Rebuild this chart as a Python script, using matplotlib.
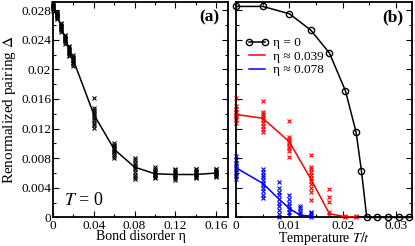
import matplotlib
matplotlib.use("Agg")
import matplotlib.pyplot as plt
from matplotlib.ticker import MultipleLocator

plt.rcParams['font.family'] = ['Liberation Serif', 'DejaVu Serif']
plt.rcParams['mathtext.fontset'] = 'stix'

# panel (a): T = 0, gap vs bond disorder
eta = [0, 0.004, 0.008, 0.012, 0.016, 0.02, 0.04, 0.06, 0.08, 0.10, 0.12, 0.14, 0.16]
gap_mean = [0.0285, 0.0273, 0.0257, 0.0241, 0.0226, 0.0212, 0.0139, 0.0092,
            0.0068, 0.0059, 0.0058, 0.0058, 0.0060]
gap_samples = [
    [0.0279, 0.0281, 0.0283, 0.0284, 0.0285, 0.0286, 0.0287, 0.0288, 0.0290],
    [0.0268, 0.0270, 0.0271, 0.0272, 0.0273, 0.0274, 0.0275, 0.0276, 0.0278],
    [0.0251, 0.0253, 0.0255, 0.0256, 0.0257, 0.0258, 0.0259, 0.0261, 0.0263],
    [0.0234, 0.0237, 0.0239, 0.0240, 0.0241, 0.0242, 0.0243, 0.0245, 0.0247],
    [0.0218, 0.0220, 0.0222, 0.0224, 0.0225, 0.0226, 0.0228, 0.0230, 0.0232],
    [0.0205, 0.0207, 0.0209, 0.0210, 0.0212, 0.0213, 0.0215, 0.0217, 0.0220],
    [0.0121, 0.0125, 0.0128, 0.0131, 0.0134, 0.0137, 0.0140, 0.0142, 0.0145, 0.0148, 0.0161],
    [0.0080, 0.0083, 0.0086, 0.0088, 0.0090, 0.0092, 0.0094, 0.0096, 0.0098, 0.0100],
    [0.0052, 0.0055, 0.0058, 0.0062, 0.0065, 0.0068, 0.0071, 0.0074, 0.0077, 0.0080],
    [0.0053, 0.0055, 0.0057, 0.0058, 0.0060, 0.0061, 0.0063, 0.0065, 0.0068],
    [0.0050, 0.0053, 0.0055, 0.0057, 0.0058, 0.0060, 0.0062, 0.0064, 0.0066],
    [0.0053, 0.0055, 0.0056, 0.0058, 0.0059, 0.0061, 0.0063, 0.0065, 0.0066],
    [0.0055, 0.0056, 0.0058, 0.0059, 0.0060, 0.0061, 0.0063, 0.0065, 0.0066],
]

# panel (b): gap vs temperature
T_clean = [0, 0.005, 0.01, 0.014, 0.0175, 0.0205, 0.0225, 0.0235, 0.0245,
           0.0265, 0.0285, 0.0305, 0.0325]
gap_clean = [0.0285, 0.0285, 0.0275, 0.0253, 0.0222, 0.0171, 0.0115, 0.0063,
             0, 0, 0, 0, 0]

T_red = [0, 0.005, 0.01, 0.014, 0.0175, 0.0205, 0.0225]
gap_red = [0.0139, 0.0134, 0.0102, 0.0052, 0.0005, 0.0001, 0.0001]
red_samples = [
    [0.0128, 0.0131, 0.0134, 0.0137, 0.0139, 0.0141, 0.0143, 0.0146, 0.0150, 0.0161],
    [0.0115, 0.0119, 0.0123, 0.0127, 0.0131, 0.0134, 0.0137, 0.0140, 0.0143, 0.0157],
    [0.0082, 0.0090, 0.0094, 0.0097, 0.0100, 0.0103, 0.0106, 0.0108, 0.0130],
    [0.0023, 0.0035, 0.0040, 0.0045, 0.0049, 0.0053, 0.0057, 0.0061, 0.0065, 0.0068, 0.0084],
    [0.0003, 0.0008, 0.0021, 0.0028, 0.0039],
    [0.0001, 0.0002],
    [0.0001, 0.0002],
]

T_blue = [0, 0.005, 0.008, 0.01, 0.012, 0.014]
gap_blue = [0.0067, 0.0046, 0.0025, 0.0012, 0.0003, 0.0002]
blue_samples = [
    [0.0052, 0.0056, 0.0059, 0.0062, 0.0065, 0.0068, 0.0071, 0.0074, 0.0078, 0.0083],
    [0.0026, 0.0031, 0.0036, 0.0040, 0.0044, 0.0047, 0.0050, 0.0054, 0.0058, 0.0062, 0.0066],
    [0.0001, 0.0005, 0.0010, 0.0015, 0.0020, 0.0025, 0.0030, 0.0035, 0.0040, 0.0048],
    [0.0003, 0.0008, 0.0012, 0.0016, 0.0020, 0.0025, 0.0031],
    [0.0003, 0.0006, 0.0009, 0.0013, 0.0016],
    [0.0001, 0.0004, 0.0006, 0.0008],
]


def scatter_clusters(ax, xs, samples, color):
    for x, ys in zip(xs, samples):
        ax.plot([x] * len(ys), ys, ls='none', marker='x', ms=3.5, mew=0.8,
                color=color, clip_on=False, zorder=2)


def style_axes(ax):
    for s in ax.spines.values():
        s.set_linewidth(1.3)
    ax.tick_params(which='both', direction='in', top=True, right=True,
                   labelsize=9.5, width=0.8, pad=1.5)
    ax.tick_params(which='major', length=4)
    ax.tick_params(which='minor', length=2)
    ax.yaxis.set_major_locator(MultipleLocator(0.004))
    ax.yaxis.set_minor_locator(MultipleLocator(0.002))
    ax.set_ylim(0, 0.0291)


fig = plt.figure(figsize=(4.15, 2.46), dpi=100)
ax1 = fig.add_axes([0.128, 0.116, 0.422, 0.876])
ax2 = fig.add_axes([0.569, 0.116, 0.424, 0.876])

# (a)
scatter_clusters(ax1, eta, gap_samples, 'black')
ax1.plot(eta, gap_mean, color='black', lw=1.1, zorder=3)
style_axes(ax1)
ax1.set_xlim(0, 0.172)
ax1.xaxis.set_major_locator(MultipleLocator(0.04))
ax1.xaxis.set_minor_locator(MultipleLocator(0.02))
ax1.set_xticks([0, 0.04, 0.08, 0.12, 0.16])
ax1.set_xticklabels(['0', '0.04', '0.08', '0.12', '0.16'])
ax1.set_yticks([0, 0.004, 0.008, 0.012, 0.016, 0.02, 0.024, 0.028])
ax1.set_yticklabels(['0', '0.004', '0.008', '0.012', '0.016', '0.02', '0.024', '0.028'])
ax1.set_xlabel('Bond disorder η', fontsize=10, labelpad=-1)
ax1.set_ylabel(r'Renormalized pairing $\bar{\Delta}$', fontsize=11)
ax1.yaxis.set_label_coords(-0.195, 0.5)
ax1.text(0.06, 0.06, r'$T$ = 0', transform=ax1.transAxes, fontsize=13)
ax1.text(0.95, 0.91, '(a)', transform=ax1.transAxes, fontsize=12.5,
         fontweight='bold', ha='right')

# (b)
scatter_clusters(ax2, T_red, red_samples, 'red')
scatter_clusters(ax2, T_blue, blue_samples, 'blue')
ax2.plot(T_red, gap_red, color='red', lw=1.1, zorder=3, label='η ≈ 0.039')
ax2.plot(T_blue, gap_blue, color='blue', lw=1.1, zorder=3, label='η ≈ 0.078')
ax2.plot(T_clean, gap_clean, color='black', lw=1.1, marker='o', ms=4.5,
         mfc='none', mew=1.0, clip_on=False, zorder=4, label='η = 0')
style_axes(ax2)
ax2.set_xlim(0, 0.033)
ax2.xaxis.set_major_locator(MultipleLocator(0.01))
ax2.xaxis.set_minor_locator(MultipleLocator(0.005))
ax2.set_xticks([0, 0.01, 0.02, 0.03])
ax2.set_xticklabels(['0', '0.01', '0.02', '0.03'])
ax2.set_yticklabels([])
ax2.set_xlabel(r'Temperature $T/t$', fontsize=10, labelpad=-1)
ax2.text(0.95, 0.91, '(b)', transform=ax2.transAxes, fontsize=12.5,
         fontweight='bold', ha='right')
h, l = ax2.get_legend_handles_labels()
ax2.legend([h[2], h[0], h[1]], [l[2], l[0], l[1]], loc='upper left',
           bbox_to_anchor=(0.0, 0.88), frameon=False, fontsize=9.5,
           handlelength=1.8, handletextpad=0.3, labelspacing=0.1,
           numpoints=2, borderaxespad=0.3)

fig.savefig('out.png', dpi=100)
